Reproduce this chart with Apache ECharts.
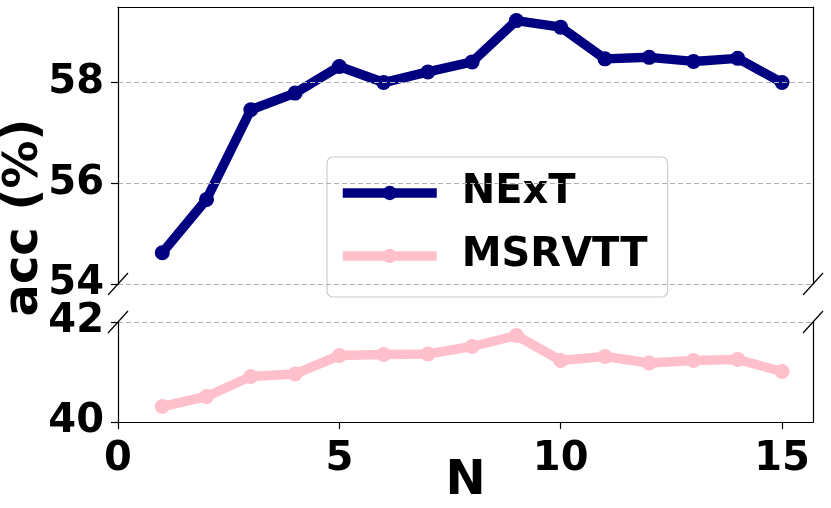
<!DOCTYPE html>
<html><head><meta charset="utf-8">
<script src="https://cdn.jsdelivr.net/npm/echarts@6/dist/echarts.min.js"></script>
<style>html,body{margin:0;padding:0;background:#fff}#c{width:831px;height:508px}</style>
</head><body><div id="c"></div>
<script>
// ---- data ----
const nValues = [1, 2, 3, 4, 5, 6, 7, 8, 9, 10, 11, 12, 13, 14, 15];
const nextAcc = [54.62, 55.68, 57.46, 57.79, 58.32, 58.0, 58.21, 58.41, 59.23, 59.10, 58.47, 58.50, 58.42, 58.48, 58.0];
const msrvttAcc = [40.31, 40.51, 40.91, 40.96, 41.33, 41.35, 41.36, 41.51, 41.73, 41.23, 41.31, 41.18, 41.23, 41.25, 41.01];
const seriesNames = ['NExT', 'MSRVTT'];
const xTicks = [0, 5, 10, 15];
const topTicks = [54, 56, 58];
const bottomTicks = [40, 42];
const xRange = [0, 15.7];
const topRange = [54, 59.5];
const bottomRange = [40, 42];
const xName = 'N';
const yName = 'acc (%)';

// ---- style ----
const FONT = 'DejaVu Sans';
const NAVY = '#000080', PINK = '#FFC0CB';
const LW = 9.5, SYM = 15;
const spine = {show: true, lineStyle: {color: '#000', width: 1.2}};
const grid0 = {left: 118, right: 18, top: 7, height: 277, outerBoundsMode: 'none', containLabel: false};
const grid1 = {left: 118, right: 18, top: 322, height: 100, outerBoundsMode: 'none', containLabel: false};

function pairs(xs, ys) { return xs.map((x, i) => [x, ys[i]]); }

const tickLabel = {fontFamily: FONT, fontWeight: 'bold', fontSize: 40, color: '#000'};
const splitDash = {show: true, lineStyle: {color: '#b0b0b0', width: 1.1, type: [5, 3]}};

function spineY(gridIndex, range, pos) {
  return {type: 'value', gridIndex, position: pos, min: range[0], max: range[1], z: 5,
    axisLine: spine, axisTick: {show: false}, axisLabel: {show: false}, splitLine: {show: false}};
}

const chart = echarts.init(document.getElementById('c'), null, {renderer: 'canvas'});
const option = {
  animation: false,
  backgroundColor: '#fff',
  grid: [grid0, grid1],
  xAxis: [
    {type: 'value', gridIndex: 0, position: 'top', min: xRange[0], max: xRange[1], z: 5,
      axisLine: spine, axisTick: {show: false}, axisLabel: {show: false}, splitLine: {show: false}},
    {type: 'value', gridIndex: 1, position: 'bottom', min: xRange[0], max: xRange[1], interval: 5, z: 5,
      axisLine: spine,
      axisTick: {show: true, length: 7, lineStyle: {color: '#000', width: 1.2}, customValues: xTicks},
      axisLabel: Object.assign({margin: 18, customValues: xTicks}, tickLabel),
      splitLine: {show: false},
      name: xName, nameLocation: 'middle', nameGap: 36, nameMoveOverlap: false,
      nameTextStyle: {fontFamily: FONT, fontWeight: 'bold', fontSize: 48, color: '#000'}}
  ],
  yAxis: [
    {type: 'value', gridIndex: 0, position: 'left', min: topRange[0], max: topRange[1], interval: 2, z: 5,
      axisLine: spine,
      axisTick: {show: true, length: 7, lineStyle: {color: '#000', width: 1.2}, customValues: topTicks},
      axisLabel: Object.assign({margin: 14, customValues: topTicks}, tickLabel),
      splitLine: splitDash},
    spineY(0, topRange, 'right'),
    {type: 'value', gridIndex: 1, position: 'left', min: bottomRange[0], max: bottomRange[1], interval: 2, z: 5,
      axisLine: spine,
      axisTick: {show: true, length: 7, lineStyle: {color: '#000', width: 1.2}, customValues: bottomTicks},
      axisLabel: Object.assign({margin: 14, customValues: bottomTicks}, tickLabel),
      splitLine: splitDash},
    spineY(1, bottomRange, 'right')
  ],
  legend: {
    show: true, orient: 'vertical', left: 327, top: 157, selectedMode: false,
    data: seriesNames,
    itemWidth: 94, itemHeight: 18, itemGap: 19,
    padding: [14, 20, 19, 11],
    backgroundColor: '#fff', borderColor: '#cccccc', borderWidth: 1.2, borderRadius: 6,
    lineStyle: {width: LW},
    textStyle: {fontFamily: FONT, fontWeight: 'bold', fontSize: 40, color: '#000', lineHeight: 44, padding: [0, 0, 0, 20]}
  },
  series: [
    {name: seriesNames[0], type: 'line', xAxisIndex: 0, yAxisIndex: 0, data: pairs(nValues, nextAcc),
      symbol: 'circle', symbolSize: SYM, color: NAVY,
      lineStyle: {color: NAVY, width: LW}, itemStyle: {color: NAVY}, z: 3},
    {name: seriesNames[1], type: 'line', xAxisIndex: 1, yAxisIndex: 2, data: pairs(nValues, msrvttAcc),
      symbol: 'circle', symbolSize: SYM, color: PINK,
      lineStyle: {color: PINK, width: LW}, itemStyle: {color: PINK}, z: 3}
  ]
};
chart.setOption(option);

// break marks + y axis title
const pTopL = chart.convertToPixel({xAxisIndex: 0, yAxisIndex: 0}, [xRange[0], topRange[0]]);
const pTopR = chart.convertToPixel({xAxisIndex: 0, yAxisIndex: 0}, [xRange[1], topRange[0]]);
const pBotL = chart.convertToPixel({xAxisIndex: 1, yAxisIndex: 2}, [xRange[0], bottomRange[1]]);
const pBotR = chart.convertToPixel({xAxisIndex: 1, yAxisIndex: 2}, [xRange[1], bottomRange[1]]);
const pTopT = chart.convertToPixel({xAxisIndex: 0, yAxisIndex: 0}, [xRange[0], topRange[1]]);
const pBotB = chart.convertToPixel({xAxisIndex: 1, yAxisIndex: 2}, [xRange[0], bottomRange[0]]);
function brk(p) {
  return {type: 'line', z: 10, shape: {x1: p[0] - 10, y1: p[1] + 11, x2: p[0] + 10, y2: p[1] - 11},
    style: {stroke: '#000', lineWidth: 1.2}};
}
chart.setOption({graphic: [
  brk(pTopL), brk(pTopR), brk(pBotL), brk(pBotR),
  {type: 'text', x: 25, y: (pTopT[1] + pBotB[1]) / 2 + 3, rotation: Math.PI / 2,
    style: {text: yName, fontFamily: FONT, fontWeight: 'bold', fontSize: 48, fill: '#000',
      align: 'center', verticalAlign: 'middle'}}
]});
</script>
</body></html>
